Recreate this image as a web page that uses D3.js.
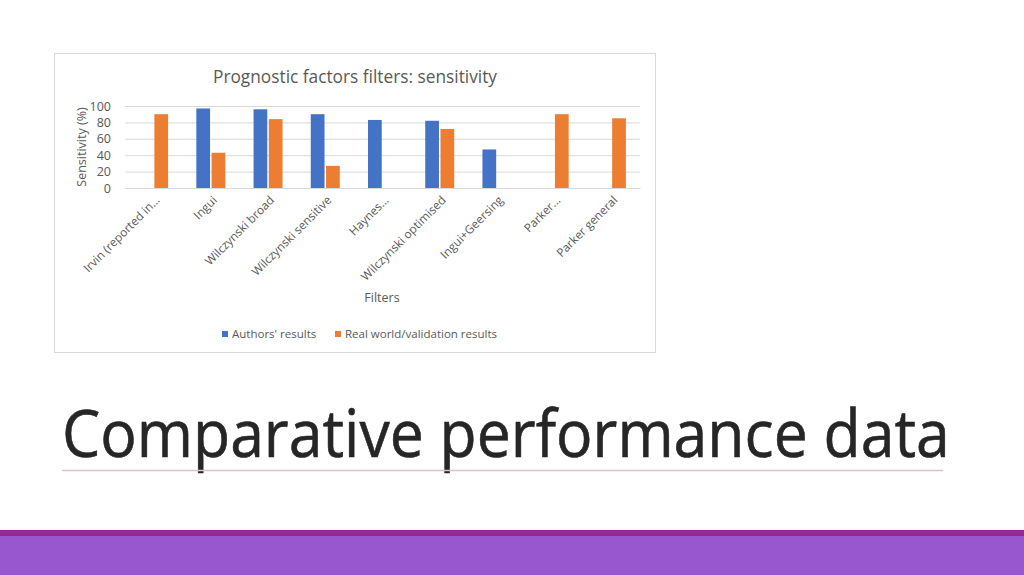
<!DOCTYPE html>
<html>
<head>
<meta charset="utf-8">
<script src="https://cdn.jsdelivr.net/npm/d3@7"></script>
<style>
  body { margin: 0; background: #fff; }
  svg { display: block; font-family: "Open Sans", "Noto Sans", sans-serif; }
</style>
</head>
<body>
<svg id="slide" width="1024" height="575"></svg>
<script>
// chart data
var categories = ["Irvin (reported in...", "Ingui", "Wilczynski broad", "Wilczynski sensitive",
                  "Haynes...", "Wilczynski optimised", "Ingui+Geersing", "Parker...", "Parker general"];
var authorsResults = [null, 97, 96, 90, 83, 82, 47, null, null];
var realWorldResults = [90, 43, 84, 27, null, 72, null, 90, 85];
var seriesNames = ["Authors' results", "Real world/validation results"];
var yTicks = [0, 20, 40, 60, 80, 100];

var colors = ["#4472c4", "#ed7d31"];

var svg = d3.select("#slide");

// bottom purple band
svg.append("rect").attr("x", 0).attr("y", 530).attr("width", 1024).attr("height", 45).attr("fill", "#9856cf");
svg.append("rect").attr("x", 0).attr("y", 530).attr("width", 1024).attr("height", 6).attr("fill", "#8f2a96");

// slide title, squeezed to the narrow look of the original
var bigTitle = svg.append("g")
    .attr("transform", "translate(62,457)");
var titleText = bigTitle.append("text")
    .text("Comparative performance data")
    .attr("font-size", 66)
    .attr("fill", "#262626")
    .attr("stroke", "#262626")
    .attr("stroke-width", 0.6);
var natural = titleText.node().getComputedTextLength();
titleText.attr("transform", "scale(" + (888 / natural) + ",1)");

svg.append("line")
    .attr("x1", 62).attr("x2", 943)
    .attr("y1", 470.5).attr("y2", 470.5)
    .attr("stroke", "#d4c4d4").attr("stroke-width", 1.5);

// chart box
svg.append("rect")
    .attr("x", 54.5).attr("y", 53.5)
    .attr("width", 601).attr("height", 299)
    .attr("fill", "#fff")
    .attr("stroke", "#d9d9d9");

var plot = {left: 125, right: 640, top: 106, bottom: 188};

var xScale = d3.scaleBand()
    .domain(categories)
    .range([plot.left, plot.right]);
var inner = d3.scaleBand()
    .domain([0, 1])
    .range([-14.5, 14.5])
    .paddingInner(0.1);
var yScale = d3.scaleLinear()
    .domain([0, 100])
    .range([plot.bottom, plot.top]);

var grid = svg.append("g")
    .attr("transform", "translate(" + plot.left + ",0)")
    .call(d3.axisLeft(yScale).tickValues(yTicks).tickSize(-(plot.right - plot.left)).tickFormat(""));
grid.select(".domain").remove();
grid.selectAll("line").attr("stroke", "#d9d9d9");

var yLabels = svg.append("g")
    .attr("transform", "translate(" + (plot.left - 11) + ",0)")
    .call(d3.axisLeft(yScale).tickValues(yTicks).tickSize(0));
yLabels.select(".domain").remove();
yLabels.selectAll("text")
    .attr("font-size", 12.5)
    .attr("font-family", "Open Sans")
    .attr("fill", "#595959");

var series = [authorsResults, realWorldResults];
series.forEach(function(values, s) {
    svg.append("g").selectAll("rect")
        .data(values.map(function(v, i) { return {cat: categories[i], v: v}; })
                    .filter(function(d) { return d.v !== null; }))
        .enter()
        .append("rect")
        .attr("x", function(d) { return xScale(d.cat) + xScale.bandwidth() / 2 + inner(s); })
        .attr("width", inner.bandwidth())
        .attr("y", function(d) { return yScale(d.v); })
        .attr("height", function(d) { return plot.bottom - yScale(d.v); })
        .attr("fill", colors[s]);
});

// category labels
var xLabels = svg.append("g")
    .attr("transform", "translate(0," + plot.bottom + ")")
    .call(d3.axisBottom(xScale).tickSize(0).tickPadding(0));
xLabels.select(".domain").attr("stroke", "#d9d9d9");
xLabels.selectAll("text")
    .attr("font-size", 11.8)
    .attr("font-family", "Open Sans")
    .attr("fill", "#595959")
    .attr("text-anchor", "end")
    .attr("dy", "0.35em")
    .attr("transform", "translate(4,10) rotate(-45)");

// titles
svg.append("text")
    .text("Prognostic factors filters: sensitivity")
    .attr("x", 355).attr("y", 83)
    .attr("text-anchor", "middle")
    .attr("font-size", 17.3)
    .attr("fill", "#595959");
svg.append("text")
    .text("Sensitivity (%)")
    .attr("transform", "translate(86,147) rotate(-90)")
    .attr("text-anchor", "middle")
    .attr("font-size", 12.5)
    .attr("fill", "#595959");
svg.append("text")
    .text("Filters")
    .attr("x", 382).attr("y", 302)
    .attr("text-anchor", "middle")
    .attr("font-size", 12.5)
    .attr("fill", "#595959");

// legend
var legendX = [222, 335];
var legend = svg.append("g").selectAll("g")
    .data(seriesNames)
    .enter()
    .append("g")
    .attr("transform", function(d, i) { return "translate(" + legendX[i] + ",331)"; });
legend.append("rect")
    .attr("width", 6).attr("height", 6)
    .attr("fill", function(d, i) { return colors[i]; });
legend.append("text")
    .text(function(d) { return d; })
    .attr("x", 10).attr("y", 7)
    .attr("font-size", 11.5)
    .attr("fill", "#595959");
</script>
</body>
</html>
